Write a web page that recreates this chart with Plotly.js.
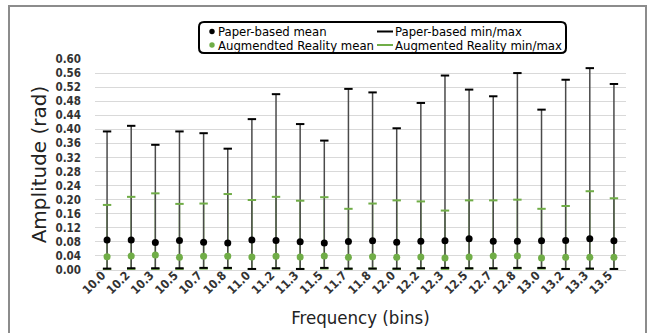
<!DOCTYPE html>
<html>
<head>
<meta charset="utf-8">
<script src="https://cdn.plot.ly/plotly-3.0.1.min.js"></script>
<style>html,body{margin:0;padding:0;background:#fff;}#chart{width:651px;height:333px;}</style>
</head>
<body>
<div id="chart"></div>
<script>
const categories = ['10.0','10.2','10.3','10.5','10.7','10.8','11.0','11.2','11.3','11.5','11.7','11.8','12.0','12.2','12.3','12.5','12.7','12.8','13.0','13.2','13.3','13.5'];

const paperMean = [0.085,0.085,0.078,0.084,0.079,0.077,0.085,0.084,0.080,0.077,0.081,0.083,0.079,0.082,0.083,0.089,0.082,0.082,0.083,0.084,0.089,0.083];
const paperMax  = [0.394,0.410,0.356,0.394,0.389,0.345,0.429,0.500,0.415,0.368,0.515,0.505,0.403,0.475,0.553,0.513,0.494,0.560,0.456,0.541,0.574,0.529];
const paperMin  = [0.004,0.005,0.005,0.005,0.006,0.006,0.003,0.005,0.003,0.006,0.004,0.004,0.004,0.005,0.006,0.005,0.005,0.006,0.006,0.003,0.004,0.003];

const arMean = [0.038,0.040,0.043,0.036,0.039,0.039,0.037,0.039,0.037,0.040,0.036,0.038,0.036,0.037,0.034,0.037,0.040,0.040,0.034,0.036,0.036,0.036];
const arMax  = [0.185,0.208,0.218,0.188,0.189,0.216,0.199,0.208,0.197,0.207,0.174,0.189,0.198,0.195,0.169,0.198,0.198,0.200,0.174,0.182,0.224,0.204];
const arMin  = [0.002,0.003,0.003,0.003,0.004,0.004,0.002,0.004,0.003,0.004,0.003,0.004,0.003,0.004,0.003,0.004,0.004,0.004,0.004,0.003,0.002,0.003];

const legendLabels = ['Paper-based mean','Augmendted Reality mean','Paper-based min/max','Augmented Reality min/max'];

const BLACK = '#000000';
const GREEN = '#70ad47';
const STEM = '#4a4a4a';

function segments(mins, maxs) {
  const x = [], y = [];
  categories.forEach((c, i) => { x.push(c, c, null); y.push(mins[i], maxs[i], null); });
  return {x, y};
}
const arSeg = segments(arMin, arMax);
const paSeg = segments(paperMin, paperMax);

const traces = [
  {type:'scatter', mode:'lines', x:arSeg.x, y:arSeg.y, line:{color:GREEN, width:1.4}, showlegend:false, hoverinfo:'skip'},
  {type:'scatter', mode:'lines', x:paSeg.x, y:paSeg.y, line:{color:STEM, width:1.5}, showlegend:false, hoverinfo:'skip'},
  {type:'scatter', mode:'markers', x:categories.concat(categories), y:arMin.concat(arMax),
   marker:{symbol:'line-ew', size:6, line:{color:GREEN, width:2}}, showlegend:false},
  {type:'scatter', mode:'markers', x:categories.concat(categories), y:paperMin.concat(paperMax),
   marker:{symbol:'line-ew', size:6, line:{color:BLACK, width:2}}, showlegend:false},
  {type:'scatter', mode:'markers', x:categories, y:arMean, marker:{color:GREEN, size:7}, showlegend:false},
  {type:'scatter', mode:'markers', x:categories, y:paperMean, marker:{color:BLACK, size:7}, showlegend:false}
];

// plot-area geometry (pixels) used to place decorations
const L = 95, T = 59, W = 531, H = 211;
const px = v => (v - L) / W;
const py = v => (T + H - v) / H;

const condensed = '"DejaVu Sans Condensed", "Liberation Sans Narrow", "DejaVu Sans", sans-serif';

const row1 = 31.5, row2 = 45;
const col1Dot = 212, col1Text = 217, col2LineA = 377, col2LineB = 393, col2Text = 394;

function seg(x0, y0, x1, y1, color, width) {
  return {type:'line', xref:'paper', yref:'paper', x0:px(x0), x1:px(x1), y0:py(y0), y1:py(y1), line:{color:color, width:width}};
}
// rounded legend box (pixel corners -> paper path)
function roundRect(x0, y0, x1, y1, r) {
  const rx = r / W, ry = r / H;
  const a = px(x0), b = px(x1), top = py(y0), bot = py(y1);
  return 'M ' + (a+rx) + ',' + top + ' L ' + (b-rx) + ',' + top + ' Q ' + b + ',' + top + ' ' + b + ',' + (top-ry) +
    ' L ' + b + ',' + (bot+ry) + ' Q ' + b + ',' + bot + ' ' + (b-rx) + ',' + bot +
    ' L ' + (a+rx) + ',' + bot + ' Q ' + a + ',' + bot + ' ' + a + ',' + (bot+ry) +
    ' L ' + a + ',' + (top-ry) + ' Q ' + a + ',' + top + ' ' + (a+rx) + ',' + top + ' Z';
}

const shapes = [
  {type:'rect', xref:'paper', yref:'paper', x0:px(9), x1:px(646), y0:py(345), y1:py(6), line:{color:'#8c8c8c', width:2}},
  {type:'path', xref:'paper', yref:'paper', path:roundRect(199, 22, 566, 53, 5), line:{color:'#000000', width:2}},
  {type:'circle', xref:'paper', yref:'paper', x0:px(col1Dot-2.7), x1:px(col1Dot+2.7), y0:py(row1+2.7), y1:py(row1-2.7), fillcolor:BLACK, line:{width:0}},
  {type:'circle', xref:'paper', yref:'paper', x0:px(col1Dot-2.7), x1:px(col1Dot+2.7), y0:py(row2+2.7), y1:py(row2-2.7), fillcolor:GREEN, line:{width:0}},
  seg(col2LineA, row1, col2LineB, row1, BLACK, 2),
  seg(col2LineA, row2, col2LineB, row2, GREEN, 2)
];

const legendFont = {family:condensed, size:13, color:'#000'};
const annotations = [
  {text:legendLabels[0], x:px(col1Text), y:py(row1)},
  {text:legendLabels[1], x:px(col1Text), y:py(row2)},
  {text:legendLabels[2], x:px(col2Text), y:py(row1)},
  {text:legendLabels[3], x:px(col2Text), y:py(row2)}
].map(a => Object.assign({xref:'paper', yref:'paper', xanchor:'left', yanchor:'middle', showarrow:false, font:legendFont, borderpad:0}, a));

const layout = {
  width:651, height:333,
  margin:{l:L, r:651-L-W, t:T, b:333-T-H, pad:0},
  paper_bgcolor:'#fff', plot_bgcolor:'#fff',
  showlegend:false,
  xaxis:{
    type:'category', range:[-0.5, categories.length-0.5],
    tickangle:-45, ticks:'', showgrid:false, zeroline:false, showline:false,
    tickfont:{family:condensed, size:12, color:'#333', weight:'bold'},
    ticklabelstandoff:-5, ticklabelshift:-5,
    automargin:false,
    title:{text:'Frequency (bins)', font:{family:condensed, size:18.5, color:'#222'}, standoff:14}
  },
  yaxis:{
    range:[0, 0.6], dtick:0.04, tick0:0, tickformat:'.2f',
    showgrid:true, gridcolor:'#d9d9d9', gridwidth:1,
    zeroline:true, zerolinecolor:'#d9d9d9', zerolinewidth:1,
    showline:false, ticks:'',
    tickfont:{family:condensed, size:11.5, color:'#333', weight:'bold'},
    ticklabelstandoff:13,
    automargin:false,
    title:{text:'Amplitude (rad)', font:{family:'"DejaVu Sans", sans-serif', size:20, color:'#222'}, standoff:3}
  },
  shapes:shapes,
  annotations:annotations
};

Plotly.newPlot('chart', traces, layout, {displayModeBar:false, staticPlot:true});
</script>
</body>
</html>
